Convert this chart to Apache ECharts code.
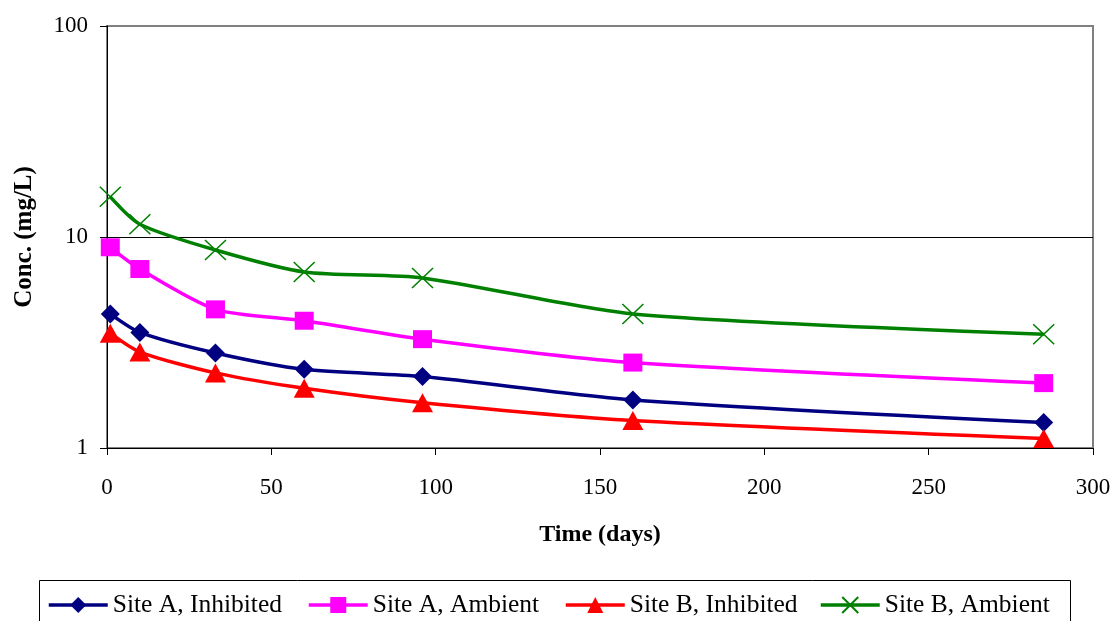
<!DOCTYPE html>
<html>
<head>
<meta charset="utf-8">
<script src="https://cdn.jsdelivr.net/npm/echarts@6/dist/echarts.min.js"></script>
<style>html,body{margin:0;padding:0;background:#fff}#c{width:1115px;height:621px}</style>
</head>
<body>
<div id="c"></div>
<script>
const days = [1, 10, 33, 60, 96, 160, 285];
const siteAInhibited = [4.32, 3.53, 2.82, 2.36, 2.18, 1.69, 1.32];
const siteAAmbient = [8.94, 7.05, 4.54, 4.01, 3.28, 2.54, 2.03];
const siteBInhibited = [3.5, 2.85, 2.27, 1.92, 1.64, 1.35, 1.11];
const siteBAmbient = [15.5, 11.5, 8.68, 6.83, 6.4, 4.32, 3.46];
const seriesNames = ['Site A, Inhibited', 'Site A, Ambient', 'Site B, Inhibited', 'Site B, Ambient'];
const xTicks = [0, 50, 100, 150, 200, 250, 300];
const yTicks = [1, 10, 100];

const FONT = '"Liberation Serif", "Times New Roman", serif';
const pairs = v => days.map((d, i) => [d, v[i]]);
const crossPath = 'path://M0,0L10,10M10,0L0,10';

function mk(name, data, color, symbol, size, extra) {
  return Object.assign({
    name: name, type: 'line', data: pairs(data), smooth: 0.25,
    symbol: symbol, symbolSize: size,
    lineStyle: { color: color, width: 3.5 },
    itemStyle: { color: color },
    z: 3
  }, extra || {});
}

const legendLefts = [47, 307, 564, 819];
const chart = echarts.init(document.getElementById('c'));
chart.setOption({
  animation: false,
  backgroundColor: '#fff',
  grid: { left: 107, right: 22, top: 26, bottom: 173, show: true, borderColor: '#808080', borderWidth: 2, backgroundColor: 'transparent' },
  xAxis: {
    type: 'value', min: 0, max: 300, interval: 50,
    axisLine: { show: true, lineStyle: { color: '#000', width: 1 } },
    axisTick: { show: true, length: 7, lineStyle: { color: '#000' } },
    axisLabel: { margin: 28, color: '#000', fontFamily: FONT, fontSize: 23,
      formatter: v => xTicks.indexOf(v) >= 0 ? String(v) : '' },
    splitLine: { show: false },
    name: 'Time (days)', nameLocation: 'middle', nameGap: 75,
    nameTextStyle: { color: '#000', fontFamily: FONT, fontSize: 24, fontWeight: 'bold' }
  },
  yAxis: {
    type: 'log', logBase: 10, min: 1, max: 100,
    axisLine: { show: true, lineStyle: { color: '#000', width: 1 } },
    axisTick: { show: true, length: 7, lineStyle: { color: '#000' } },
    axisLabel: { margin: 19, color: '#000', fontFamily: FONT, fontSize: 23,
      formatter: v => yTicks.indexOf(Math.round(v)) >= 0 ? String(Math.round(v)) : '' },
    splitLine: { show: true, showMinLine: false, showMaxLine: false, lineStyle: { color: '#000', width: 1 } },
    name: 'Conc. (mg/L)', nameLocation: 'middle', nameGap: 70, nameRotate: 90,
    nameTextStyle: { color: '#000', fontFamily: FONT, fontSize: 25, fontWeight: 'bold' }
  },
  legend: seriesNames.map((n, i) => ({
    data: [n], left: legendLefts[i], top: 592, padding: 0,
    itemWidth: 59, itemHeight: 20, itemGap: 0,
    lineStyle: { width: 3.5 },
    textStyle: { color: '#000', fontFamily: FONT, fontSize: 25.5, padding: [0, 0, 0, 0] }
  })),
  graphic: [{
    type: 'rect', x: 39.5, y: 580.5, z: 100, shape: { x: 0, y: 0, width: 1031, height: 60 },
    style: { fill: null, stroke: '#000', lineWidth: 1 }, silent: true
  }],
  series: [
    mk(seriesNames[0], siteAInhibited, '#000080', 'diamond', [19, 19]),
    mk(seriesNames[1], siteAAmbient, '#FF00FF', 'rect', [19, 18]),
    mk(seriesNames[2], siteBInhibited, '#FF0000', 'triangle', [21, 19]),
    mk(seriesNames[3], siteBAmbient, '#008000', crossPath, [21, 20],
      { itemStyle: { color: '#008000', borderColor: '#008000', borderWidth: 1.5 } })
  ]
});
</script>
</body>
</html>
